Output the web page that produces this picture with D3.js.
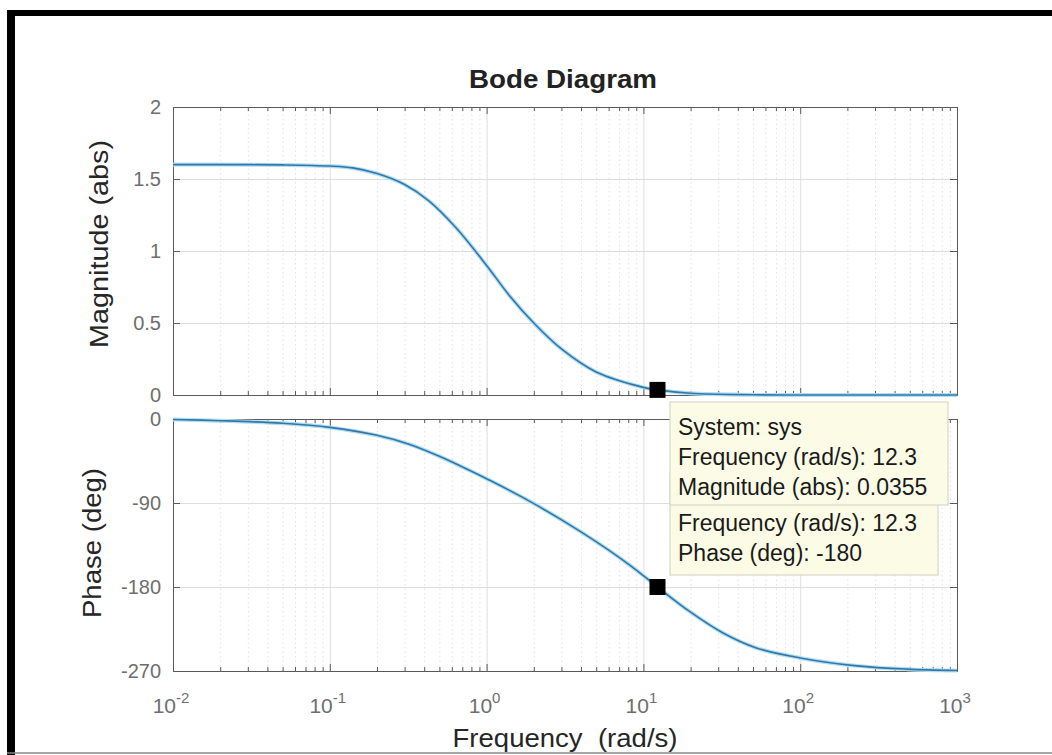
<!DOCTYPE html>
<html>
<head>
<meta charset="utf-8">
<script src="https://cdn.jsdelivr.net/npm/d3@7"></script>
<style>
  body { margin: 0; background: #fff; }
  svg text { font-family: "Liberation Sans", Arial, Helvetica, sans-serif; }
  .tick text { fill: #6e6e6e; }
  .axisline path, .axisline line { stroke: #5a5a5a; }
  .majorgrid line { stroke: #dedede; }
  .minorgrid line { stroke: #e2e2e2; stroke-dasharray: 1.5 3; }
  .grid path { display: none; }
</style>
</head>
<body>
<div id="render-here"></div>
<script>
// values
const magFreq = [0.01, 0.02, 0.05, 0.1, 0.14, 0.2, 0.3, 0.43, 0.64, 1, 1.4, 2, 3, 5, 10, 12.3, 20, 50, 100, 200, 500, 1000];
const magValues = [1.600, 1.600, 1.598, 1.59, 1.577, 1.538, 1.462, 1.347, 1.16, 0.90, 0.69, 0.50, 0.32, 0.16, 0.053, 0.0355, 0.012, 0.0015, 0.0003, 0.00005, 0, 0];
const phaseFreq = [0.01, 0.02, 0.05, 0.1, 0.2, 0.32, 0.5, 0.8, 1, 1.9, 4, 8.26, 12.3, 20, 32, 52, 100, 230, 480, 1000];
const phaseValues = [-0.5, -1.8, -4.6, -9, -17.5, -27, -40, -56, -64, -88.5, -121, -157, -180, -207, -229, -245, -256, -264.5, -268, -269.5];
const decadeTicks = [0.01, 0.1, 1, 10, 100, 1000];
const decadeExponents = ['-2', '-1', '0', '1', '2', '3'];
const magTicks = [0, 0.5, 1, 1.5, 2];
const phaseTicks = [-270, -180, -90, 0];
const markerFreq = 12.3;
const markerMag = 0.0355;
const markerPhase = -180;
const tipMagLines = ['System: sys', 'Frequency (rad/s): 12.3', 'Magnitude (abs): 0.0355'];
// first line of the phase tip ("System: sys") is hidden under the magnitude tip
const tipPhaseLines = ['Frequency (rad/s): 12.3', 'Phase (deg): -180'];

const W = 1052, H = 755;
const left = 173, right = 957;
const magTop = 107, magBottom = 395;
const phTop = 419, phBottom = 671;

const minorTicks = [];
decadeTicks.slice(0, -1).forEach(d => {
    for (let k = 2; k <= 9; k++) minorTicks.push(d * k);
});

const x = d3.scaleLog().domain([0.01, 1000]).range([left, right]);
const yMag = d3.scaleLinear().domain([0, 2]).range([magBottom, magTop]);
const yPh = d3.scaleLinear().domain([-270, 0]).range([phBottom, phTop]);

const svg = d3.select('#render-here').append('svg')
    .attr('width', W).attr('height', H);

// frame of the screenshot
svg.append('line').attr('x1', 11).attr('x2', 11).attr('y1', 10).attr('y2', 755)
    .attr('stroke', '#000').attr('stroke-width', 8);
svg.append('line').attr('x1', 7).attr('x2', W).attr('y1', 13).attr('y2', 13)
    .attr('stroke', '#000').attr('stroke-width', 6);
svg.append('line').attr('x1', 7).attr('x2', W).attr('y1', 753).attr('y2', 753)
    .attr('stroke', '#888').attr('stroke-width', 1.5);

function panel(y, top, bottom, ticks, values, freqs) {
    const g = svg.append('g');
    const h = bottom - top;

    g.append('g').attr('class', 'grid minorgrid')
        .attr('transform', `translate(0,${bottom})`)
        .call(d3.axisBottom(x).tickValues(minorTicks).tickSize(-h).tickFormat(''));
    g.append('g').attr('class', 'grid majorgrid')
        .attr('transform', `translate(0,${bottom})`)
        .call(d3.axisBottom(x).tickValues(decadeTicks).tickSize(-h).tickFormat(''));
    g.append('g').attr('class', 'grid majorgrid')
        .attr('transform', `translate(${left},0)`)
        .call(d3.axisLeft(y).tickValues(ticks).tickSize(-(right - left)).tickFormat(''));

    // box with inward ticks
    g.append('g').attr('class', 'axisline')
        .attr('transform', `translate(0,${bottom})`)
        .call(d3.axisBottom(x).tickValues(minorTicks).tickSize(-4).tickSizeOuter(0).tickFormat(''));
    g.append('g').attr('class', 'axisline')
        .attr('transform', `translate(0,${bottom})`)
        .call(d3.axisBottom(x).tickValues(decadeTicks).tickSize(-7).tickSizeOuter(0).tickFormat(''));
    g.append('g').attr('class', 'axisline')
        .attr('transform', `translate(0,${top})`)
        .call(d3.axisTop(x).tickValues(minorTicks).tickSize(-4).tickSizeOuter(0).tickFormat(''));
    g.append('g').attr('class', 'axisline')
        .attr('transform', `translate(0,${top})`)
        .call(d3.axisTop(x).tickValues(decadeTicks).tickSize(-7).tickSizeOuter(0).tickFormat(''));
    g.append('g').attr('class', 'axisline')
        .attr('transform', `translate(${right},0)`)
        .call(d3.axisRight(y).tickValues(ticks).tickSize(-7).tickSizeOuter(0).tickFormat(''));
    const la = g.append('g').attr('class', 'axisline')
        .attr('transform', `translate(${left},0)`)
        .call(d3.axisLeft(y).tickValues(ticks).tickSize(-7).tickSizeOuter(0)
            .tickFormat(d => d));
    la.selectAll('.tick text').attr('font-size', 20).attr('x', -12);

    const line = d3.line()
        .x((d, i) => x(freqs[i]))
        .y(d => y(d))
        .curve(d3.curveCatmullRom.alpha(0.5));
    g.append('path').datum(values)
        .attr('d', line)
        .attr('fill', 'none')
        .attr('stroke', '#b3def2')
        .attr('stroke-width', 4);
    g.append('path').datum(values)
        .attr('d', line)
        .attr('fill', 'none')
        .attr('stroke', '#2f78a8')
        .attr('stroke-width', 1.6);
    return g;
}

panel(yMag, magTop, magBottom, magTicks, magValues, magFreq);
panel(yPh, phTop, phBottom, phaseTicks, phaseValues, phaseFreq);

// x tick labels as powers of ten
const xl = svg.append('g');
decadeTicks.forEach((d, i) => {
    const t = xl.append('text')
        .attr('x', x(d) - 2)
        .attr('y', 713)
        .attr('text-anchor', 'middle')
        .attr('font-size', 21)
        .attr('fill', '#6e6e6e');
    t.append('tspan').text('10');
    t.append('tspan').attr('dy', -10).attr('font-size', 15).text(decadeExponents[i]);
});

svg.append('text')
    .attr('x', 563).attr('y', 88)
    .attr('text-anchor', 'middle')
    .attr('font-size', 25).attr('font-weight', 'bold')
    .attr('fill', '#222')
    .attr('textLength', 188).attr('lengthAdjust', 'spacingAndGlyphs')
    .text('Bode Diagram');

svg.append('text')
    .attr('x', 565).attr('y', 747)
    .attr('text-anchor', 'middle')
    .attr('font-size', 25).attr('fill', '#262626')
    .attr('xml:space', 'preserve')
    .attr('textLength', 225).attr('lengthAdjust', 'spacingAndGlyphs')
    .text('Frequency  (rad/s)');

svg.append('text')
    .attr('transform', `translate(108,244) rotate(-90)`)
    .attr('text-anchor', 'middle')
    .attr('font-size', 25).attr('fill', '#262626')
    .attr('textLength', 208).attr('lengthAdjust', 'spacingAndGlyphs')
    .text('Magnitude (abs)');

svg.append('text')
    .attr('transform', `translate(101,543) rotate(-90)`)
    .attr('text-anchor', 'middle')
    .attr('font-size', 25).attr('fill', '#262626')
    .attr('textLength', 150).attr('lengthAdjust', 'spacingAndGlyphs')
    .text('Phase (deg)');

// data tips
function dataTip(bx, by, bw, bh, lines, firstBaseline) {
    const g = svg.append('g');
    g.append('rect')
        .attr('x', bx).attr('y', by).attr('width', bw).attr('height', bh)
        .attr('fill', '#fcfce6').attr('stroke', '#d8d8c8').attr('stroke-width', 1.2);
    g.selectAll('text').data(lines).enter().append('text')
        .attr('x', bx + 8)
        .attr('y', (d, i) => by + firstBaseline + i * 30)
        .attr('font-size', 23)
        .attr('fill', '#1a1a1a')
        .text(d => d);
}
dataTip(670, 474, 268, 101, tipPhaseLines, 57);
dataTip(670, 402, 278, 103, tipMagLines, 33);

svg.append('rect')
    .attr('x', x(markerFreq) - 8).attr('y', yMag(markerMag) - 8)
    .attr('width', 16).attr('height', 16).attr('fill', '#000');
svg.append('rect')
    .attr('x', x(markerFreq) - 8).attr('y', yPh(markerPhase) - 8)
    .attr('width', 16).attr('height', 16).attr('fill', '#000');
</script>
</body>
</html>
